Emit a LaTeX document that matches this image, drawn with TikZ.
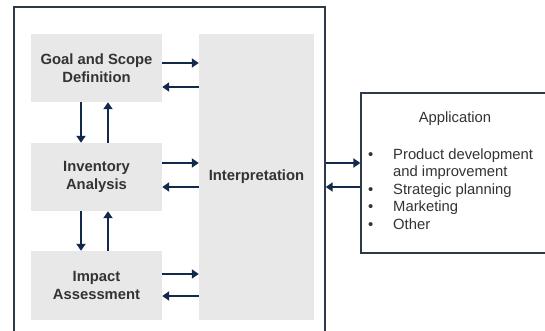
\documentclass[tikz,border=0pt]{standalone}
\usepackage{fontspec}
\setmainfont{Liberation Sans}
\usetikzlibrary{arrows.meta}
\definecolor{boxgray}{HTML}{E8E8E8}
\definecolor{navy}{HTML}{13294B}
\definecolor{framecol}{HTML}{2E3A4A}
\definecolor{txt}{HTML}{333333}
\tikzset{
  stage/.style={rectangle, fill=boxgray, draw=none, text=txt,
    font=\fontsize{14.8}{17.5}\selectfont\bfseries, align=center,
    minimum width=131pt, minimum height=68pt, inner sep=0pt},
  flow/.style={draw=navy, line width=2.8pt,
    -{Triangle[length=7pt, width=9pt]}},
  apptext/.style={text=txt, font=\fontsize{14.8}{17.5}\selectfont,
    inner sep=0pt, anchor=base west},
}
\begin{document}
\begin{tikzpicture}[x=1pt, y=-1pt]
\useasboundingbox (0,0) rectangle (545,331);
\clip (0,0) rectangle (545,331);

% outer frame of the assessment framework
\node[draw=framecol, line width=1.4pt, minimum width=311pt, minimum height=338pt,
  inner sep=0pt] (frame) at (169.5,176) {};

% stages
\node[stage] (goal) at (96.5,68) {Goal and Scope\\Definition};
\node[stage] (inv) at (96.5,177) {Inventory\\Analysis};
\node[stage, minimum height=69pt] (impact) at (96.5,285.5) {Impact\\Assessment};
\node[stage, minimum width=115pt, minimum height=286pt] (interp) at (256.5,177) {Interpretation};

% stages <-> interpretation
\draw[flow] (goal.east |- 0,63) -- (interp.west |- 0,63);
\draw[flow] (interp.west |- 0,87) -- (goal.east |- 0,87);
\draw[flow] (inv.east |- 0,163) -- (interp.west |- 0,163);
\draw[flow] (interp.west |- 0,187) -- (inv.east |- 0,187);
\draw[flow] (impact.east |- 0,274) -- (interp.west |- 0,274);
\draw[flow] (interp.west |- 0,296) -- (impact.east |- 0,296);

% between stages
\draw[flow] (goal.south -| 81,0) -- (inv.north -| 81,0);
\draw[flow] (inv.north -| 108,0) -- (goal.south -| 108,0);
\draw[flow] (inv.south -| 81,0) -- (impact.north -| 81,0);
\draw[flow] (impact.north -| 108,0) -- (inv.south -| 108,0);

% application box
\node[draw=framecol, line width=1.2pt, fill=white, minimum width=199pt,
  minimum height=160pt, inner sep=0pt] (app) at (460.5,173) {};
\draw[flow] (frame.east |- 0,163) -- (app.west |- 0,163);
\draw[flow] (app.west |- 0,187) -- (frame.east |- 0,187);

\node[apptext, anchor=base] (apptitle) at (455,123) {Application};
\foreach \y/\name/\t/\b in {159/l1/Product development/1, 176.5/l2/and improvement/0,
    194/l3/Strategic planning/1, 211.5/l4/Marketing/1, 229/l5/Other/1}{
  \node[apptext] (\name) at (393,\y) {\t};
  \ifnum\b=1
    \node[apptext] (b\name) at (368,\y) {•};
  \fi
}
\end{tikzpicture}
\end{document}
